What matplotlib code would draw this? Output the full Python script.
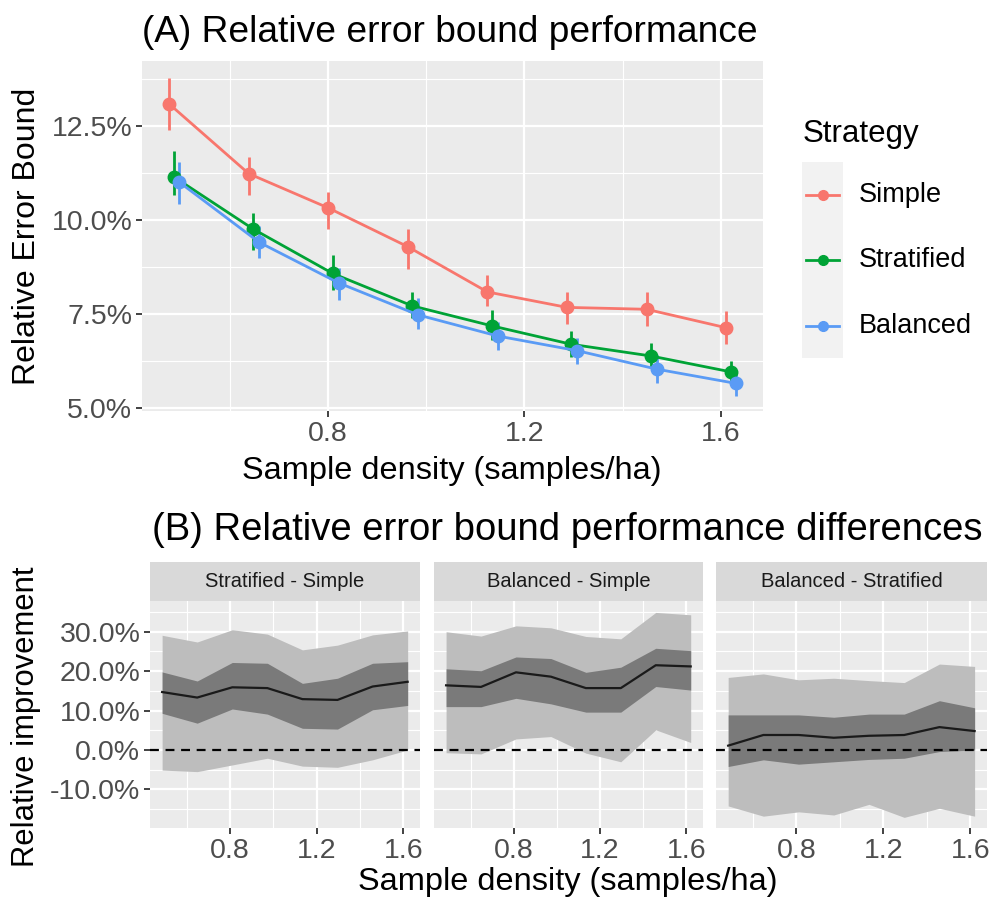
import matplotlib
matplotlib.use("Agg")
import matplotlib.pyplot as plt
import numpy as np

plt.rcParams['font.family'] = ['Liberation Sans', 'DejaVu Sans']

W, H = 990, 902

# ---- data: panel A (relative error bound, %) ----
density = [0.486, 0.648, 0.810, 0.972, 1.134, 1.296, 1.458, 1.620]
strategies = ["Simple", "Stratified", "Balanced"]

simple_mean = [13.08, 11.23, 10.32, 9.29, 8.09, 7.68, 7.63, 7.14]
simple_lo = [12.38, 10.66, 9.76, 8.70, 7.71, 7.23, 7.19, 6.72]
simple_hi = [13.78, 11.68, 10.73, 9.76, 8.54, 8.08, 8.08, 7.59]

strat_mean = [11.15, 9.76, 8.58, 7.72, 7.19, 6.70, 6.39, 5.97]
strat_lo = [10.66, 9.20, 8.14, 7.39, 6.81, 6.37, 6.06, 5.71]
strat_hi = [11.84, 10.18, 9.07, 8.08, 7.61, 7.06, 6.74, 6.26]

bal_mean = [11.00, 9.41, 8.33, 7.48, 6.92, 6.53, 6.04, 5.66]
bal_lo = [10.42, 9.00, 7.87, 7.10, 6.55, 6.19, 5.66, 5.33]
bal_hi = [11.53, 9.85, 8.72, 7.92, 7.28, 6.86, 6.41, 5.97]

# ---- data: panel B (relative improvement, %) ----
facets = ["Stratified - Simple", "Balanced - Simple", "Balanced - Stratified"]

ss_mid = [14.7, 13.3, 15.9, 15.7, 12.9, 12.7, 16.1, 17.3]
ss_in_lo = [9.3, 6.8, 10.4, 9.1, 5.5, 5.3, 10.2, 11.3]
ss_in_hi = [19.8, 17.5, 22.2, 22.0, 16.9, 18.2, 22.0, 22.4]
ss_out_lo = [-5.1, -5.5, -3.8, -2.1, -4.1, -4.4, -2.5, 0.0]
ss_out_hi = [29.1, 27.4, 30.5, 29.4, 25.4, 26.6, 29.2, 30.2]

bs_mid = [16.4, 16.0, 19.7, 18.6, 15.7, 15.7, 21.5, 21.2]
bs_in_lo = [11.0, 11.0, 13.1, 11.7, 9.6, 9.6, 16.1, 15.2]
bs_in_hi = [20.6, 20.1, 23.6, 23.2, 19.7, 21.0, 25.8, 25.2]
bs_out_lo = [-0.7, -1.0, 2.8, 3.4, -0.8, -3.0, 5.1, 1.9]
bs_out_hi = [30.0, 28.9, 31.5, 31.0, 28.8, 28.2, 34.9, 34.3]

bst_mid = [1.1, 3.8, 3.8, 3.1, 3.6, 3.8, 5.8, 4.8]
bst_in_lo = [-4.2, -2.5, -3.6, -3.0, -2.4, -2.1, -0.4, 0.0]
bst_in_hi = [8.9, 8.9, 8.9, 8.3, 9.1, 9.1, 12.5, 10.7]
bst_out_lo = [-14.2, -16.8, -15.7, -16.5, -13.8, -17.1, -14.8, -16.8]
bst_out_hi = [18.4, 19.3, 17.8, 18.2, 17.6, 17.1, 21.8, 21.2]

colors = {"Simple": "#F8766D", "Stratified": "#00A336", "Balanced": "#5A9BF5"}
dodge = {"Simple": -0.009, "Stratified": 0.0, "Balanced": 0.012}

PANEL = "#EBEBEB"
TICKCOL = "#4D4D4D"


def rect(x0, y0, x1, y1):
    return [x0 / W, 1 - y1 / H, (x1 - x0) / W, (y1 - y0) / H]


def gg_style(ax, ymaj, ymin):
    ax.set_facecolor(PANEL)
    for s in ax.spines.values():
        s.set_visible(False)
    ax.set_xticks([0.8, 1.2, 1.6])
    ax.set_xticks([0.6, 1.0, 1.4], minor=True)
    ax.set_yticks(ymaj)
    ax.set_yticks(ymin, minor=True)
    ax.grid(True, which='major', color='white', lw=1.6)
    ax.grid(True, which='minor', color='white', lw=0.8)
    ax.set_axisbelow(True)
    ax.tick_params(which='major', length=4, width=1.3, color='#333333',
                   labelcolor=TICKCOL, labelsize=20.5, pad=3)
    ax.tick_params(which='minor', length=0)


def fig_text(x, y, s, **kw):
    fig.text(x / W, 1 - y / H, s, **kw)


fig = plt.figure(figsize=(W / 100, H / 100), dpi=100)

# ---------------- panel A ----------------
axA = fig.add_axes(rect(142, 61, 763, 411))
gg_style(axA, [5.0, 7.5, 10.0, 12.5], [6.25, 8.75, 11.25, 13.75])
series = {
    "Simple": (simple_mean, simple_lo, simple_hi),
    "Stratified": (strat_mean, strat_lo, strat_hi),
    "Balanced": (bal_mean, bal_lo, bal_hi),
}
for name in strategies:
    m, lo, hi = series[name]
    x = np.array(density) + dodge[name]
    axA.vlines(x, lo, hi, color=colors[name], lw=2.0, zorder=3)
    axA.plot(x, m, '-o', color=colors[name], lw=2.0, ms=9, zorder=4)
axA.set_xlim(0.4217, 1.686)
axA.set_ylim(4.93, 14.22)
axA.yaxis.set_major_formatter(plt.FuncFormatter(lambda v, p: "%.1f%%" % v))

fig_text(142, 42, "(A) Relative error bound performance", fontsize=26.7,
         ha='left', va='baseline', color='black')
fig_text(452, 479, "Sample density (samples/ha)", fontsize=23.4,
         ha='center', va='baseline')
fig_text(27, 236, "Relative Error Bound", fontsize=23, rotation=90,
         ha='center', va='center')

# legend (drawn manually, ggplot-like)
fig_text(803, 142, "Strategy", fontsize=22.5, ha='left', va='baseline')
legA = fig.add_axes(rect(802, 162, 843, 358))
legA.set_facecolor("#F2F2F2")
legA.set_xlim(0, 1)
legA.set_ylim(358, 162)
legA.set_xticks([])
legA.set_yticks([])
for s in legA.spines.values():
    s.set_visible(False)
for name, yk in zip(strategies, [195, 260, 326]):
    legA.plot([0.1, 0.9], [yk, yk], '-', color=colors[name], lw=2.0)
    legA.plot([0.5], [yk], 'o', color=colors[name], ms=7)
    fig_text(859, yk, name, fontsize=19.5, ha='left', va='center')

# ---------------- panel B ----------------
fig_text(152, 540, "(B) Relative error bound performance differences",
         fontsize=27.5, ha='left', va='baseline')
bands = [
    (ss_mid, ss_in_lo, ss_in_hi, ss_out_lo, ss_out_hi),
    (bs_mid, bs_in_lo, bs_in_hi, bs_out_lo, bs_out_hi),
    (bst_mid, bst_in_lo, bst_in_hi, bst_out_lo, bst_out_hi),
]
xspans = [(150, 420), (434, 703), (716, 987)]
for i, (title, (mid, ilo, ihi, olo, ohi), (x0, x1)) in enumerate(zip(facets, bands, xspans)):
    ax = fig.add_axes(rect(x0, 601, x1, 828))
    gg_style(ax, [-10, 0, 10, 20, 30], [-15, -5, 5, 15, 25, 35])
    ax.fill_between(density, olo, ohi, color='#BDBDBD', lw=0, zorder=2)
    ax.fill_between(density, ilo, ihi, color='#7A7A7A', lw=0, zorder=3)
    ax.plot(density, mid, color='#1A1A1A', lw=1.6, zorder=4)
    ax.axhline(0, color='black', lw=1.6, ls=(0, (4, 3)), zorder=5)
    ax.set_xlim(0.43, 1.677)
    ax.set_ylim(-19.8, 37.8)
    if i == 0:
        ax.yaxis.set_major_formatter(plt.FuncFormatter(lambda v, p: "%.1f%%" % v))
    else:
        ax.tick_params(axis='y', which='both', length=0, labelleft=False)
    # strip
    st = fig.add_axes(rect(x0, 562, x1, 601))
    st.set_facecolor("#D9D9D9")
    st.set_xticks([])
    st.set_yticks([])
    for s in st.spines.values():
        s.set_visible(False)
    st.text(0.5, 0.5, title, transform=st.transAxes, ha='center', va='center',
            fontsize=14.5, color='#1A1A1A')

fig_text(568, 890, "Sample density (samples/ha)", fontsize=23.4,
         ha='center', va='baseline')
fig_text(26, 717, "Relative improvement", fontsize=22.3, rotation=90,
         ha='center', va='center')

fig.savefig("out.png", dpi=100)
